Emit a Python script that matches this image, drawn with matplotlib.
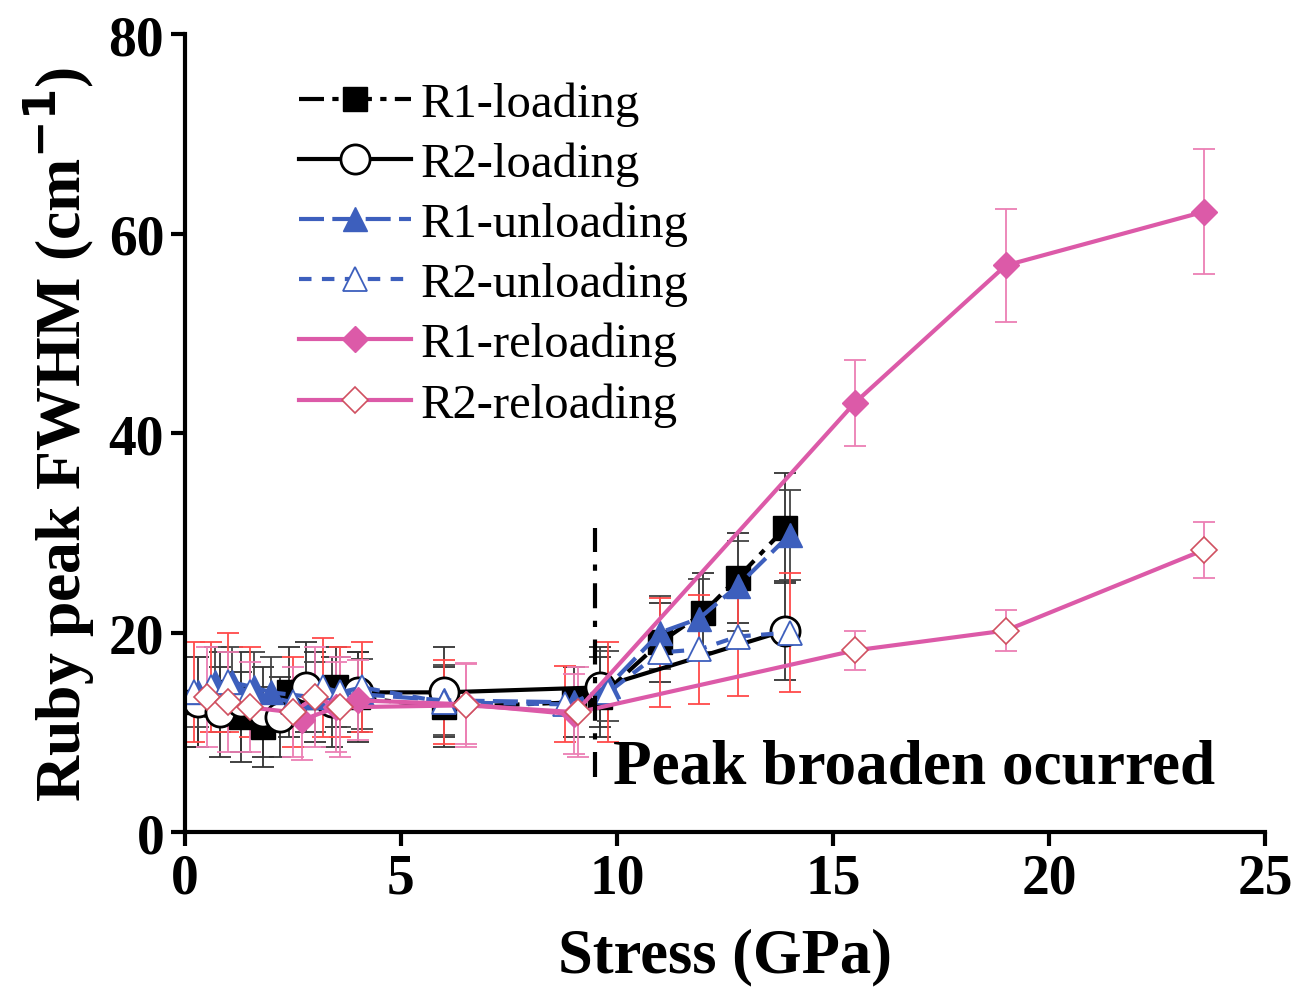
import numpy as np
import matplotlib.pyplot as plt

plt.rcParams['font.family'] = ['Liberation Serif', 'DejaVu Serif']

# data
r1_load_x = [0.3, 0.8, 1.3, 1.8, 2.4, 3.0, 3.5, 4.0, 6.0, 9.0, 9.6, 11.0, 12.0, 12.8, 13.9]
r1_load_y = [13.0, 14.0, 11.5, 10.5, 14.0, 13.5, 14.5, 13.5, 12.5, 13.0, 13.5, 19.0, 22.0, 25.5, 30.5]
r1_load_e = [4.5, 4.0, 4.5, 4.0, 4.5, 4.5, 4.0, 4.5, 4.0, 3.5, 4.0, 4.0, 4.0, 4.5, 5.5]

r2_load_x = [0.3, 0.8, 1.3, 1.8, 2.2, 2.8, 3.4, 4.0, 6.0, 9.6, 13.9]
r2_load_y = [13.0, 12.0, 13.0, 12.0, 11.5, 14.5, 13.0, 14.0, 14.0, 14.5, 20.2]
r2_load_e = [4.5, 4.5, 5.0, 4.5, 4.0, 4.5, 4.5, 4.0, 4.5, 4.0, 5.0]

r1_unl_x = [0.3, 0.7, 1.1, 1.6, 2.0, 3.0, 3.6, 4.1, 6.0, 9.0, 9.8, 11.0, 11.9, 12.8, 14.0]
r1_unl_y = [14.0, 15.0, 15.0, 14.5, 14.0, 13.5, 14.0, 13.8, 13.2, 13.0, 14.6, 20.0, 21.4, 24.7, 29.8]
r1_unl_e = [3.5, 3.5, 3.5, 3.5, 3.5, 3.5, 3.5, 3.5, 3.5, 3.5, 3.5, 3.7, 4.0, 4.5, 4.5]

r2_unl_x = [0.2, 0.6, 1.0, 1.5, 2.5, 3.2, 3.6, 4.1, 6.0, 8.8, 9.8, 11.0, 11.9, 12.8, 14.0]
r2_unl_y = [14.0, 14.5, 15.0, 14.0, 13.0, 14.5, 14.0, 14.5, 13.0, 12.8, 14.0, 18.0, 18.3, 19.6, 20.0]
r2_unl_e = [5.0, 4.5, 5.0, 4.5, 4.5, 5.0, 4.5, 4.5, 4.2, 3.8, 5.0, 5.5, 5.5, 6.0, 6.0]

r1_rel_x = [2.7, 3.5, 4.0, 6.5, 9.0, 15.5, 19.0, 23.6]
r1_rel_y = [11.2, 12.5, 13.2, 12.8, 11.8, 43.0, 56.8, 62.2]
r1_rel_e = [4.0, 4.5, 4.0, 4.0, 4.0, 4.3, 5.7, 6.3]

r2_rel_x = [0.5, 1.0, 1.5, 2.5, 3.0, 3.6, 6.5, 9.1, 15.5, 19.0, 23.6]
r2_rel_y = [13.5, 13.0, 12.5, 12.0, 13.5, 12.5, 12.7, 12.0, 18.2, 20.2, 28.3]
r2_rel_e = [5.0, 5.0, 4.5, 4.5, 5.0, 5.0, 4.2, 4.5, 2.0, 2.1, 2.8]

blue = '#3d5fbd'
pink = '#dc5aa8'
red = '#ff4a4a'
pinkbar = '#ec7fb4'

fig = plt.figure(figsize=(13.1, 9.95), dpi=100)
ax = fig.add_axes([0.1412, 0.1628, 0.8244, 0.802])

# error bars (no labels)
eb = dict(fmt='none', capsize=8, elinewidth=1.3, capthick=1.3)
ax.errorbar(r1_load_x, r1_load_y, yerr=r1_load_e, ecolor='#333333', **eb)
ax.errorbar(r2_load_x, r2_load_y, yerr=r2_load_e, ecolor='#333333', **eb)
ax.errorbar(r1_unl_x, r1_unl_y, yerr=r1_unl_e, ecolor='#444444', **eb)
ax.errorbar(r2_unl_x, r2_unl_y, yerr=r2_unl_e, ecolor=red, **eb)
ax.errorbar(r1_rel_x, r1_rel_y, yerr=r1_rel_e, ecolor=pinkbar, **eb)
ax.errorbar(r2_rel_x, r2_rel_y, yerr=r2_rel_e, ecolor=pinkbar, **eb)

lw = 3.0
ax.plot(r1_load_x, r1_load_y, color='black', lw=lw, ls=(0, (6, 2, 1.5, 2)),
        marker='s', ms=17, mfc='black', mec='black', label='R1-loading')
ax.plot(r2_load_x, r2_load_y, color='black', lw=lw, ls='-',
        marker='o', ms=21, mfc='white', mec='black', mew=2, label='R2-loading')
ax.plot(r1_unl_x, r1_unl_y, color=blue, lw=lw, ls=(0, (6, 2)),
        marker='^', ms=17, mfc=blue, mec=blue, label='R1-unloading')
ax.plot(r2_unl_x, r2_unl_y, color=blue, lw=lw, ls=(0, (3, 2.5)),
        marker='^', ms=17, mfc='white', mec=blue, mew=1.3, label='R2-unloading')
ax.plot(r1_rel_x, r1_rel_y, color=pink, lw=lw, ls='-',
        marker='D', ms=13, mfc=pink, mec=pink, label='R1-reloading')
ax.plot(r2_rel_x, r2_rel_y, color=pink, lw=lw, ls='-',
        marker='D', ms=13, mfc='white', mec='#d05060', mew=1.2, label='R2-reloading')

# threshold line
ax.plot([9.5, 9.5], [5.5, 30.5], color='black', lw=3, ls=(0, (6, 3, 1.5, 3)))
ax.text(9.9, 5.0, 'Peak broaden ocurred', fontsize=45.5, fontweight='bold')

ax.set_xlim(0, 25)
ax.set_ylim(0, 80)
ax.set_xticks([0, 5, 10, 15, 20, 25])
ax.set_yticks([0, 20, 40, 60, 80])
for s in ['top', 'right']:
    ax.spines[s].set_visible(False)
for s in ['left', 'bottom']:
    ax.spines[s].set_linewidth(3)
ax.tick_params(direction='out', length=10, width=3, labelsize=40, pad=5)
for lab in ax.get_xticklabels() + ax.get_yticklabels():
    lab.set_fontweight('bold')

ax.set_xlabel('Stress (GPa)', fontsize=45, fontweight='bold', labelpad=16)
ax.set_ylabel('Ruby peak FWHM (cm$^{\\mathbf{-1}}$)', fontsize=46, fontweight='bold', labelpad=8)

ax.legend(loc='upper left', bbox_to_anchor=(0.065, 0.995), frameon=False,
          fontsize=35, handlelength=2.3, labelspacing=0.32, handletextpad=0.2,
          markerscale=1.0)

fig.savefig('out.png', dpi=100)
